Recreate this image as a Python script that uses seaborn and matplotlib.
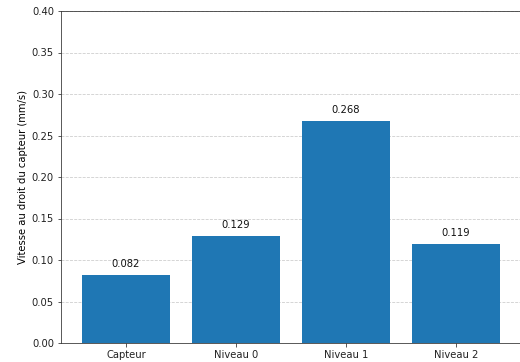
import matplotlib
matplotlib.use("Agg")
import matplotlib.pyplot as plt
import seaborn as sns
import pandas as pd

categories = ["Capteur", "Niveau 0", "Niveau 1", "Niveau 2"]
vitesses = [0.082, 0.129, 0.268, 0.119]
yticks = [0.00, 0.05, 0.10, 0.15, 0.20, 0.25, 0.30, 0.35, 0.40]

df = pd.DataFrame({"niveau": categories, "vitesse": vitesses})

plt.rcParams["font.family"] = ["DejaVu Sans"]
plt.rcParams["font.size"] = 10

dpi = 72
fig = plt.figure(figsize=(520 / dpi, 362 / dpi), dpi=dpi)
ax = fig.add_axes([61 / 520, 19 / 362, 460 / 520, 332 / 362])

sns.barplot(data=df, x="niveau", y="vitesse", color="#1f77b4",
            saturation=1, width=0.8, ax=ax, zorder=3)

for cont in ax.containers:
    ax.bar_label(cont, fmt="%.3f", padding=6, fontsize=10, color="#111111")

ax.set_xlim(-0.59, 3.59)
ax.set_ylim(0, 0.40)
ax.set_yticks(yticks)
ax.set_yticklabels([f"{t:.2f}" for t in yticks])
ax.set_xlabel("")
ax.set_ylabel("Vitesse au droit du capteur (mm/s)", fontsize=10)
ax.yaxis.grid(True, linestyle="--", color="#cccccc", linewidth=0.8, zorder=0)
ax.xaxis.grid(False)
ax.set_axisbelow(True)
for s in ax.spines.values():
    s.set_color("#333333")
ax.spines["right"].set_visible(False)
ax.tick_params(colors="#333333", labelcolor="#222222")

fig.savefig("out.png", dpi=dpi)
